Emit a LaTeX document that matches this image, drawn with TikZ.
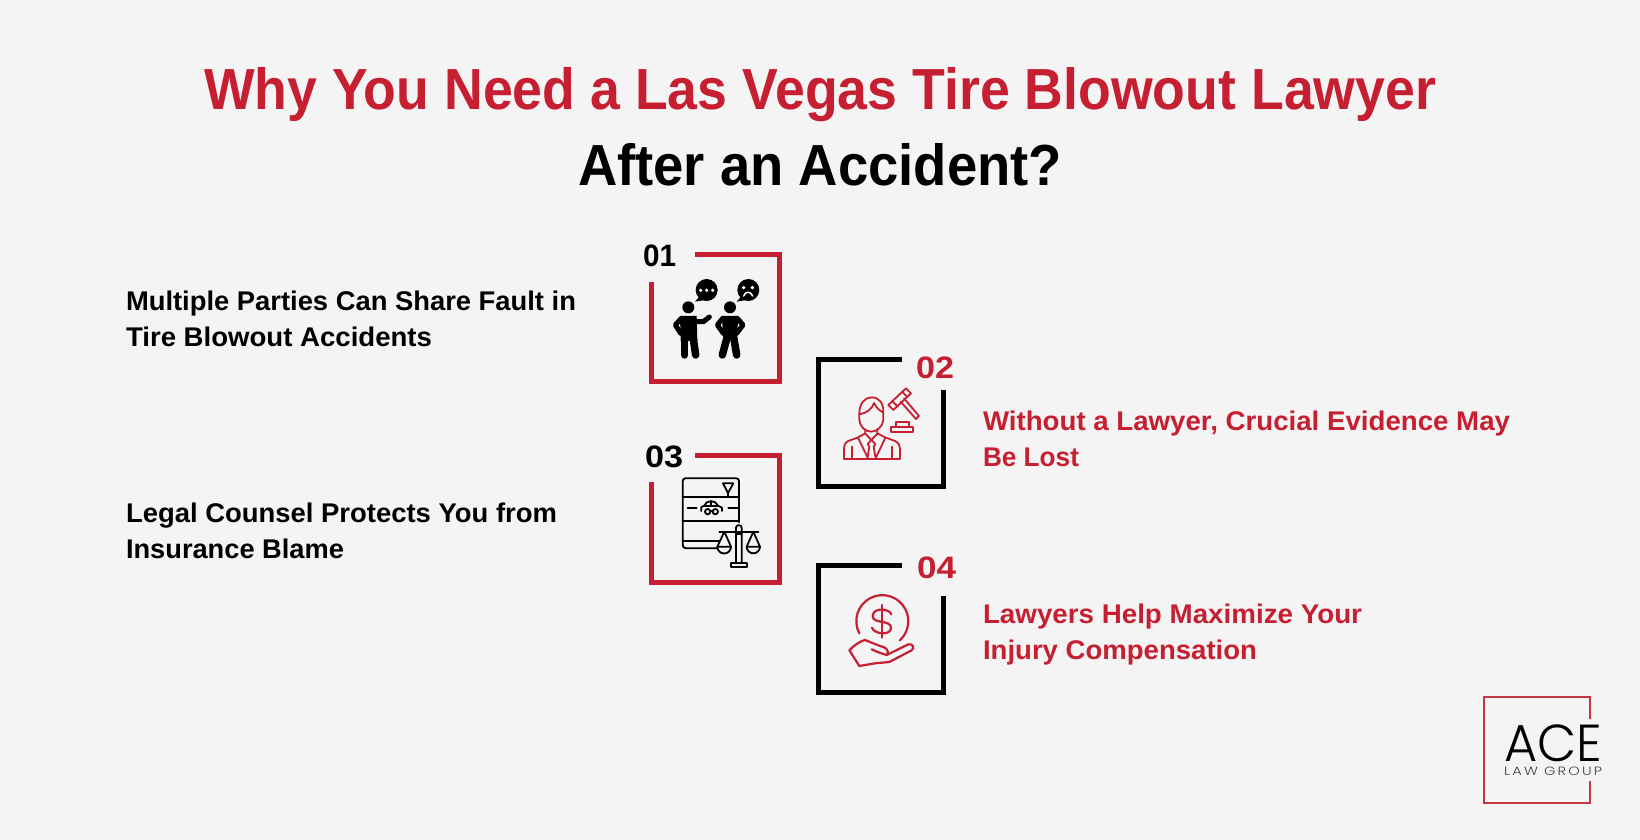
\documentclass[tikz,border=0pt]{standalone}
\usepackage{fontspec}
\usepackage{graphicx}
\setmainfont{Liberation Sans}
\newfontfamily\titlef{Liberation Sans}
\newfontfamily\bodyf{Liberation Sans}
\newfontfamily\lightf{Poppins Light}
\definecolor{acered}{HTML}{C51F31}
\definecolor{logored}{HTML}{C43645}
\definecolor{pagebg}{HTML}{F4F4F4}
\newcommand\fitw[2]{\resizebox{#1pt}{\height}{#2}}
\tikzset{
  x=1pt,y=-1pt,
  txt/.style={inner sep=0pt,outer sep=0pt,anchor=base west},
  frame/.style={line width=5pt,line cap=butt,miter limit=10},
  iconline/.style={line width=1.8pt,line cap=round,line join=round},
  limb/.style={draw=black,line cap=round,line join=round,fill=none},
  crop/.style={x=0.3333pt,y=-0.3333pt}
}
\begin{document}
\begin{tikzpicture}
\useasboundingbox (0,0) rectangle (1640,840);
\fill[pagebg] (0,0) rectangle (1640,840);

% Title
\node[txt,text=acered] (t1) at (204,110) {\fitw{1232}{\fontsize{58}{66}\selectfont\titlef\bfseries Why You Need a Las Vegas Tire Blowout Lawyer}};
\node[txt,text=black] (t2) at (578,185) {\fitw{484}{\fontsize{58}{66}\selectfont\titlef\bfseries After an Accident?}};

% Body text
\node[txt] (a1) at (126,310) {\fitw{450}{\fontsize{27}{30}\selectfont\bodyf\bfseries Multiple Parties Can Share Fault in}};
\node[txt] (a2) at (126,346) {\fitw{306}{\fontsize{27}{30}\selectfont\bodyf\bfseries Tire Blowout Accidents}};
\node[txt] (c1) at (126,522) {\fitw{431}{\fontsize{27}{30}\selectfont\bodyf\bfseries Legal Counsel Protects You from}};
\node[txt] (c2) at (126,558) {\fitw{218}{\fontsize{27}{30}\selectfont\bodyf\bfseries Insurance Blame}};
\node[txt,text=acered] (b1) at (983,430) {\fitw{527}{\fontsize{27}{30}\selectfont\bodyf\bfseries Without a Lawyer, Crucial Evidence May}};
\node[txt,text=acered] (b2) at (983,466) {\fitw{96}{\fontsize{27}{30}\selectfont\bodyf\bfseries Be Lost}};
\node[txt,text=acered] (d1) at (983,623) {\fitw{379}{\fontsize{27}{30}\selectfont\bodyf\bfseries Lawyers Help Maximize Your}};
\node[txt,text=acered] (d2) at (983,659) {\fitw{274}{\fontsize{27}{30}\selectfont\bodyf\bfseries Injury Compensation}};

% Numbers
\node[txt] (n1) at (643,266) {\fitw{33}{\fontsize{31}{32}\selectfont\bodyf\bfseries 01}};
\node[txt,text=acered] (n2) at (916,378) {\fitw{38}{\fontsize{31}{32}\selectfont\bodyf\bfseries 02}};
\node[txt] (n3) at (645,467) {\fitw{38}{\fontsize{31}{32}\selectfont\bodyf\bfseries 03}};
\node[txt,text=acered] (n4) at (917,578) {\fitw{39}{\fontsize{31}{32}\selectfont\bodyf\bfseries 04}};

% Frames
\draw[frame,draw=acered] (651.5,281.5) -- (651.5,381.5) -- (779.5,381.5) -- (779.5,254.5) -- (695,254.5);
\draw[frame,draw=acered] (651.5,481.5) -- (651.5,582) -- (779.5,582) -- (779.5,455.5) -- (695,455.5);
\draw[frame,draw=black] (902,359.5) -- (818.5,359.5) -- (818.5,486.5) -- (943.5,486.5) -- (943.5,390);
\draw[frame,draw=black] (902,565.5) -- (818.5,565.5) -- (818.5,692.5) -- (943.5,692.5) -- (943.5,596);

% Icon 01
\begin{scope}[shift={(660,265)},crop]
  \fill (85,127) circle[radius=18];
  \fill (210,127) circle[radius=18];
  \fill (140,75) circle[radius=33];
  \fill (265,75) circle[radius=33];
  \fill (118,95) -- (105,110) -- (135,105) -- cycle;
  \fill (243,95) -- (230,110) -- (260,105) -- cycle;
  \fill[white] (122,76) circle[radius=5.5] (140,76) circle[radius=5.5] (158,76) circle[radius=5.5];
  \fill[white] (251,68) circle[radius=5.5] (277,68) circle[radius=5.5];
  \draw[white,line width=1.5pt,line cap=round] (251,93) .. controls (256,78) and (272,78) .. (278,93);
  % person 1
  \fill (60,153) -- (110,153) -- (112,228) -- (62,228) -- cycle;
  \draw[limb,line width=7.5pt] (74,222) -- (74,270);
  \draw[limb,line width=7.5pt] (100,222) -- (107,270);
  \draw[limb,line width=5pt] (64,160) -- (46,180) -- (62,205);
  \draw[limb,line width=5pt] (105,170) -- (130,170) -- (148,156);
  % person 2
  \fill (186,153) -- (234,153) -- (232,228) -- (190,228) -- cycle;
  \draw[limb,line width=7.5pt] (200,222) -- (187,270);
  \draw[limb,line width=7.5pt] (222,222) -- (230,270);
  \draw[limb,line width=5pt] (188,160) -- (172,180) -- (190,205);
  \draw[limb,line width=5pt] (232,160) -- (249,180) -- (230,205);
\end{scope}

% Icon 02
\begin{scope}[shift={(830,375)},crop,iconline,draw=acered]
  \draw (88,115) .. controls (88,85) and (105,67) .. (125,67) .. controls (148,67) and (160,85) .. (160,110) -- (160,135) .. controls (158,155) and (140,170) .. (124,170) .. controls (105,170) and (90,155) .. (88,135) -- cycle;
  \draw (88,118) .. controls (110,115) and (128,100) .. (132,84) .. controls (140,100) and (150,108) .. (160,112);
  \draw (106,163) -- (106,175) -- (82,188) -- (55,198) .. controls (45,203) and (42,210) .. (42,220) -- (42,252) -- (210,252) -- (210,220) .. controls (210,210) and (205,203) .. (195,198) -- (168,188) -- (142,175) -- (142,163);
  \draw (66,215) -- (66,252);
  \draw (187,215) -- (187,252);
  \draw (84,188) -- (115,252);
  \draw (166,188) -- (136,252);
  \draw (106,176) -- (124,195) -- (142,176);
  \draw (124,195) -- (113,207) -- (118,215) -- (113,245);
  \draw (124,195) -- (136,207) -- (131,215) -- (136,245);
  % gavel
  \draw (175,90) -- (190,105) -- (243,55) -- (228,40) -- cycle;
  \draw (186,78) -- (203,94);
  \draw (216,50) -- (232,66);
  \draw (212,80) -- (258,132) -- (267,123) -- (222,70);
  \draw (197,155) -- (197,140) -- (236,140) -- (236,155);
  \draw (184,155) rectangle (248,170);
\end{scope}

% Icon 03
\begin{scope}[shift={(660,465)},crop,iconline]
  \draw (237,172) -- (237,48) arc[start angle=0,end angle=-90,radius=8] -- (76,40) arc[start angle=-90,end angle=-180,radius=8] -- (68,240) arc[start angle=180,end angle=90,radius=10] -- (172,250);
  \draw (68,95) -- (237,95);
  \draw (68,167) -- (237,167);
  \draw (68,228) -- (176,228);
  \draw (189,55) -- (220,55) -- (204,84) -- cycle;
  \draw (204,84) -- (204,95);
  \draw (83,128) -- (110,128);
  \draw (205,128) -- (232,128);
  \draw (124,138) -- (124,126) -- (133,122) .. controls (138,104) and (168,104) .. (174,122) -- (186,128) -- (186,138);
  \draw (152,138) -- (158,138);
  \draw (133,122) -- (174,122);
  \draw (154,108) -- (154,122);
  \draw (143,140) circle[radius=8];
  \draw (166,140) circle[radius=8];
  % scales
  \draw (178,200) -- (295,200);
  \draw (228,295) -- (228,188) .. controls (228,178) and (245,178) .. (245,188) -- (245,295);
  \draw (228,208) -- (245,208);
  \draw (213,295) rectangle (260,307);
  \draw (193,200) -- (172,245) -- (213,245) -- cycle;
  \draw (172,245) arc[start angle=180,end angle=0,radius=20.5];
  \draw (280,200) -- (260,245) -- (300,245) -- cycle;
  \draw (260,245) arc[start angle=180,end angle=0,radius=20];
\end{scope}

% Icon 04
\begin{scope}[shift={(830,581)},crop,line width=2.2pt,line cap=round,line join=round,draw=acered]
  \draw (88,157) arc[start angle=152,end angle=408,radius=78];
  \draw (155,72) -- (155,170);
  \draw (184,100) .. controls (178,82) and (130,78) .. (128,105) .. controls (128,130) and (182,115) .. (183,140) .. controls (184,165) and (132,160) .. (126,140);
  \draw (125,205) .. controls (140,212) and (155,218) .. (170,222) -- (235,190) .. controls (248,186) and (255,202) .. (245,208) -- (178,243) -- (135,247) -- (88,255) -- (58,208) .. controls (70,195) and (90,180) .. (105,177) -- (150,195) .. controls (165,198) and (178,205) .. (172,222);
\end{scope}

% Logo
\draw[logored,line width=2pt] (1590,719) -- (1590,697) -- (1484,697) -- (1484,803) -- (1590,803) -- (1590,781);
\node[txt] (ace) at (1504,761) {\fitw{98}{\fontsize{52}{54}\selectfont\lightf ACE}};
\node[txt,text=black!75] (lg) at (1504,775.5) {\fitw{98}{\fontsize{12}{14}\selectfont\lightf\addfontfeature{LetterSpace=15}LAW GROUP}};
\end{tikzpicture}
\end{document}
